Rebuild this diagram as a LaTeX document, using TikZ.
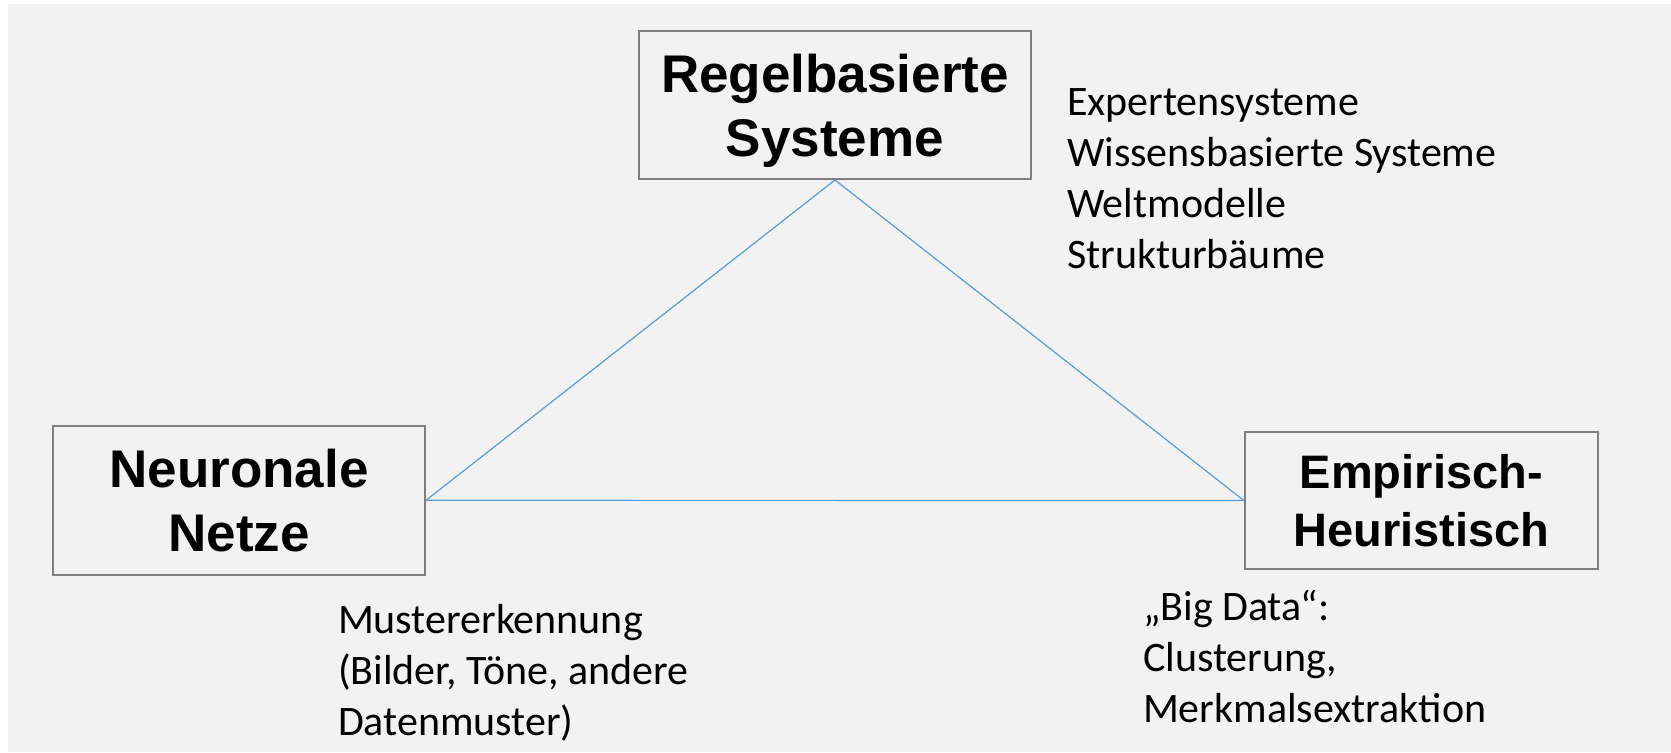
\documentclass[tikz,border=0pt]{standalone}
\usepackage{fontspec}
\setmainfont{Carlito}
\newfontfamily\boxfont{Liberation Sans}
\definecolor{bggray}{RGB}{242,242,242}
\definecolor{boxgray}{RGB}{127,127,127}
\definecolor{linkblue}{RGB}{91,155,213}
\tikzset{every picture/.style={line width=1pt},
  topic/.style={draw=boxgray, fill=bggray, align=center, inner sep=0pt, text depth=0pt},
  bigtitle/.style={font=\boxfont\bfseries\fontsize{26.5}{32}\selectfont},
  smalltitle/.style={font=\boxfont\bfseries\fontsize{23.5}{29.3}\selectfont},
  note/.style={align=left, inner sep=0pt, anchor=base west, font=\fontsize{21}{25.5}\selectfont},
  link/.style={draw=linkblue, line width=0.6pt}}

\begin{document}
\begin{tikzpicture}[x=0.5pt,y=-0.5pt]
          \useasboundingbox (0,0) rectangle (1671,753);
          \fill[bggray] (8,4) rectangle (1671,752);
          % the three approaches
          \node[topic, bigtitle, minimum width=196pt, minimum height=74pt] (regel) at (835,105) {Regelbasierte\\Systeme};
          \node[topic, bigtitle, minimum width=186pt, minimum height=74.5pt] (neuro) at (239,500.3) {Neuronale\\Netze};
          \node[topic, smalltitle, minimum width=176.5pt, minimum height=68pt] (emp) at (1421.3,500.5) {Empirisch-\\Heuristisch};
          \draw[link] (regel.south) -- (neuro.east);
          \draw[link] (regel.south) -- (emp.west);
          \draw[link] (neuro.east) -- (emp.west);
          % examples (anchored at the last line)
          \node[note] (regelnote) at (1066,269) {Expertensysteme\\Wissensbasierte Systeme\\Weltmodelle\\Strukturbäume};
          \node[note] (neuronote) at (337,735) {Mustererkennung\\(Bilder, Töne, andere\\Datenmuster)};
          \node[note] (empnote) at (1142,722.7) {„Big Data“:\\Clusterung,\\Merkmalsextraktion};
        \end{tikzpicture}
\end{document}
